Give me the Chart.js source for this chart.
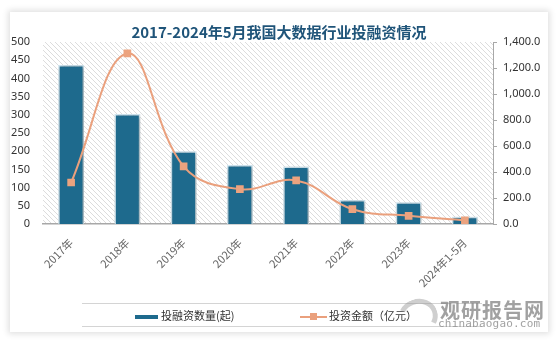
<!DOCTYPE html>
<html>
<head>
<meta charset="utf-8">
<script src="https://cdn.jsdelivr.net/npm/chart.js@4.4.1/dist/chart.umd.min.js"></script>
<style>
  html, body { margin: 0; padding: 0; background: #fff; width: 558px; height: 342px; overflow: hidden; }
  .card {
    position: absolute; left: 10px; top: 12px; width: 538px; height: 320px;
    background: #fff; box-shadow: 0 0 6px 2px rgba(0,0,0,0.12);
  }
  .card canvas { position: absolute; left: 0; top: 0; }
  .title {
    position: absolute; left: 0; top: 9px; width: 100%; text-align: center;
    font: bold 15px "Noto Sans CJK SC", "DejaVu Serif", serif; color: #1f5479;
  }
  .legend {
    position: absolute; left: 72px; top: 291px; width: 400px; height: 22px;
    border-top: 1px solid #d4d4d4; border-bottom: 1px solid #d4d4d4;
    font: 11px "Noto Sans CJK SC", sans-serif; color: #333;
  }
  .legend .item { position: absolute; top: 3px; line-height: 16px; }
  .sw-bar { display: inline-block; width: 23px; height: 4px; background: #1e6a8d; vertical-align: middle; margin-right: 3px; }
  .sw-line { display: inline-block; position: relative; width: 27px; height: 2px; background: #eaa07d; vertical-align: middle; margin-right: 2px; }
  .sw-line i { position: absolute; left: 10px; top: -3px; width: 7px; height: 7px; background: #eaa07d; }
  .wm1 {
    position: absolute; left: 430px; top: 283px; font: bold 20px "Noto Sans CJK SC", sans-serif;
    color: rgba(130,130,130,0.75); letter-spacing: 1px;
  }
  .wm2 {
    position: absolute; left: 428px; top: 305px; font: 11px "DejaVu Sans Mono", monospace;
    color: rgba(130,130,130,0.75); letter-spacing: 0.2px;
  }
  .wm-logo {
    position: absolute; left: 388px; top: 287px; width: 30px; height: 26px; border-radius: 50%;
    border: 5px solid rgba(150,150,150,0.45); border-left-color: transparent; border-bottom-color: transparent;
    transform: rotate(-20deg);
  }
</style>
</head>
<body>
<div class="card">
  <canvas id="chart" width="538" height="320"></canvas>
  <div class="title">2017-2024年5月我国大数据行业投融资情况</div>
  <div class="legend">
    <div class="item" style="left:53px"><span class="sw-bar"></span>投融资数量(起)</div>
    <div class="item" style="left:218px"><span class="sw-line"><i></i></span>投资金额（亿元）</div>
  </div>
  <div class="wm-logo"></div>
  <div class="wm1">观研报告网</div>
  <div class="wm2">chinabaogao.com</div>
</div>
<script>
const years = ['2017年', '2018年', '2019年', '2020年', '2021年', '2022年', '2023年', '2024年1-5月'];
const dealCounts = [437, 302, 200, 162, 158, 66, 60, 20];
const amounts = [319, 1312, 443, 268, 335, 114, 63, 29];
const countTicks = { min: 0, max: 500, step: 50 };
const amountTicks = { min: 0, max: 1400, step: 200 };

// diagonal hatch behind the plot
const hatch = (() => {
  const c = document.createElement('canvas');
  c.width = 5; c.height = 5;
  const g = c.getContext('2d');
  g.fillStyle = '#ffffff';
  g.fillRect(0, 0, 5, 5);
  g.strokeStyle = '#dcdcdc';
  g.lineWidth = 1;
  g.beginPath();
  g.moveTo(-1, -1); g.lineTo(6, 6);
  g.moveTo(-1, 4); g.lineTo(1, 6);
  g.moveTo(4, -1); g.lineTo(6, 1);
  g.stroke();
  return g.createPattern(c, 'repeat');
})();

const plotBg = {
  id: 'plotBg',
  beforeDraw(chart) {
    const { ctx, chartArea: a } = chart;
    ctx.save();
    ctx.fillStyle = hatch;
    ctx.fillRect(a.left, a.top, a.right - a.left, a.bottom - a.top);
    ctx.restore();
  },
  beforeDatasetDraw(chart, args) {
    if (args.index !== 1) return;
    const ctx = chart.ctx;
    ctx.save();
    ctx.shadowColor = 'rgba(0,0,0,0.35)';
    ctx.shadowBlur = 4;
    ctx.shadowOffsetX = 1;
    ctx.shadowOffsetY = 1;
  },
  afterDatasetDraw(chart, args) {
    if (args.index === 1) chart.ctx.restore();
  }
};

new Chart(document.getElementById('chart'), {
  data: {
    labels: years,
    datasets: [
      {
        type: 'line',
        label: '投资金额（亿元）',
        data: amounts,
        yAxisID: 'y1',
        borderColor: '#eaa07d',
        backgroundColor: '#eca37f',
        borderWidth: 2,
        tension: 0.4,
        pointStyle: 'rect',
        pointRadius: 4,
        pointBorderColor: '#eca37f',
        order: 0
      },
      {
        type: 'bar',
        label: '投融资数量(起)',
        data: dealCounts,
        yAxisID: 'y',
        backgroundColor: '#1e6a8d',
        borderColor: '#d4eaf5',
        borderWidth: 1.5,
        barPercentage: 0.46,
        categoryPercentage: 1,
        order: 1
      }
    ]
  },
  options: {
    responsive: false,
    animation: false,
    layout: { padding: { top: 30, left: 0, right: 0, bottom: 0 } },
    plugins: {
      legend: { display: false },
      title: { display: false },
      tooltip: { enabled: false }
    },
    scales: {
      x: {
        grid: { display: false },
        border: { display: true, color: '#a8a8a8', width: 1.5 },
        ticks: {
          minRotation: 45, maxRotation: 45, padding: 4,
          color: '#666', font: { size: 11, family: 'Noto Sans CJK SC' }
        },
        afterFit(s) { s.height = 108; }
      },
      y: {
        position: 'left',
        min: countTicks.min, max: countTicks.max,
        grid: { display: false, drawTicks: false },
        border: { display: false },
        ticks: {
          stepSize: countTicks.step, padding: 13,
          color: '#333', font: { size: 11, family: 'Noto Sans' }
        },
        afterFit(s) { s.width = 33; }
      },
      y1: {
        position: 'right',
        min: amountTicks.min, max: amountTicks.max,
        grid: { drawOnChartArea: false, drawTicks: true, tickLength: 4, color: '#a8a8a8' },
        border: { display: true, color: '#a8a8a8' },
        ticks: {
          stepSize: amountTicks.step, padding: 6,
          color: '#333', font: { size: 11, family: 'Noto Sans' },
          callback: v => v.toLocaleString('en-US', { minimumFractionDigits: 1, maximumFractionDigits: 1 })
        },
        afterFit(s) { s.width = 55; }
      }
    }
  },
  plugins: [plotBg]
});
</script>
</body>
</html>
